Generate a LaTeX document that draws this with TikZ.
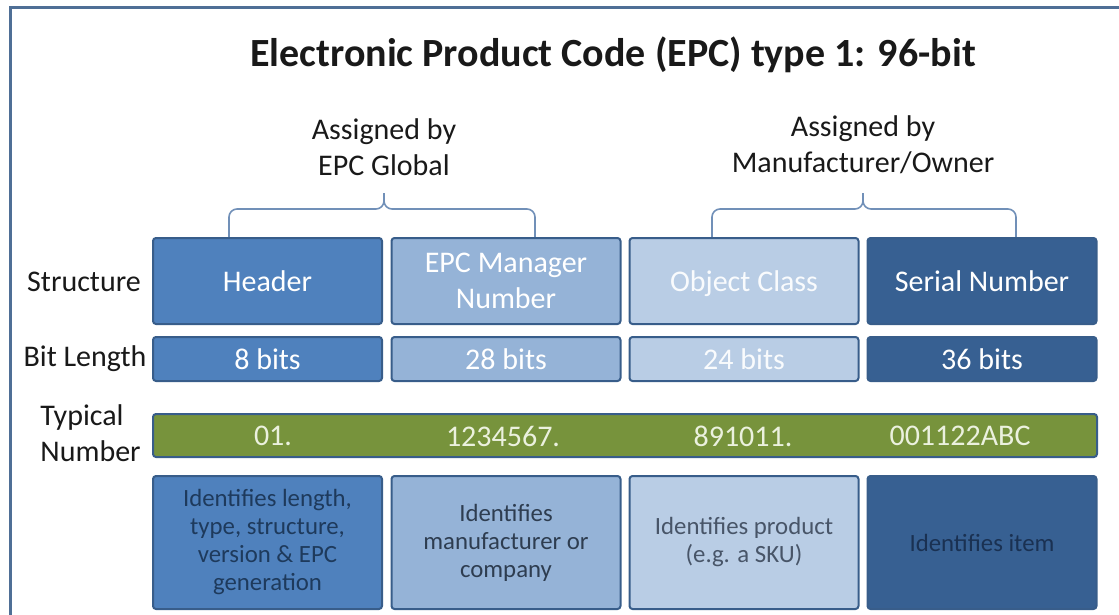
\documentclass[tikz,border=0pt]{standalone}
\usepackage{fontspec}
\setmainfont{Carlito}

\definecolor{frameblue}{HTML}{4F6F96}
\definecolor{boxline}{HTML}{385D8A}
\definecolor{hdrblue}{HTML}{4F81BD}
\definecolor{mgrblue}{HTML}{95B3D7}
\definecolor{objblue}{HTML}{B9CDE5}
\definecolor{serblue}{HTML}{376092}
\definecolor{numgreen}{HTML}{77933C}
\definecolor{numtext}{HTML}{EBF1DE}
\definecolor{bracecol}{HTML}{7190B8}
\definecolor{hdrtext}{HTML}{1E3A5C}
\definecolor{mgrtext}{HTML}{2E3D50}
\definecolor{objtext}{HTML}{485568}
\definecolor{sertext}{HTML}{1A3152}

\newcommand{\titlesize}{\fontsize{20}{24}\selectfont}
\newcommand{\labelsize}{\fontsize{15}{18}\selectfont}
\newcommand{\descsize}{\fontsize{12.4}{14}\selectfont}

\begin{document}
\begin{tikzpicture}[x=.5pt,y=-.5pt,
    field/.style={draw=boxline,line width=1pt,rounded corners=1.5pt,inner sep=0pt,align=center,minimum width=114.5pt},
    structbox/.style={field,minimum height=43pt,text=white,font=\labelsize},
    bitbox/.style={field,minimum height=22pt,text=white,font=\labelsize},
    descbox/.style={field,minimum height=66.5pt,font=\descsize},
    rowlabel/.style={text=black!90,font=\labelsize,inner sep=0pt},
    numlabel/.style={text=numtext,font=\labelsize,inner sep=0pt},
    brace/.style={draw=bracecol,line width=.8pt,rounded corners=4pt}]
    \useasboundingbox (0,0) rectangle (1119,615);
    \draw[frameblue,line width=1.5pt] (10,615) -- (10,8) -- (1119,8);
    \node[font=\titlesize\bfseries,text=black!90] (title) at (613,55) {Electronic Product Code (EPC) type 1: 96-bit};
    % assigned by ==========================================
    \node[rowlabel,align=center,font=\labelsize] (glob) at (384,147) {Assigned by\\EPC Global};
    \node[rowlabel,align=center,font=\labelsize] (own)  at (863,145) {Assigned by\\Manufacturer/Owner};
    \coordinate (gtip) at (384,193); \coordinate (gl) at (229,237); \coordinate (gr) at (535,237);
    \coordinate (otip) at (863,193); \coordinate (ol) at (712,237); \coordinate (or) at (1016,237);
    \draw[brace] (gl) |- (384,209) -- (gtip); \draw[brace] (gr) |- (384,209) -- (gtip);
    \draw[brace] (ol) |- (863,209) -- (otip); \draw[brace] (or) |- (863,209) -- (otip);
    % row labels ===========================================
    \node[rowlabel] (lstruct) at (84,282) {Structure};
    \node[rowlabel] (lbits)   at (85,359) {Bit Length};
    \node[rowlabel,anchor=west,align=left] (lnum) at (40,433) {Typical\\Number};
    % structure ============================================
    \node[structbox,fill=hdrblue] (hdr) at (267.5,281) {Header};
    \node[structbox,fill=mgrblue] (mgr) at (506,281)   {EPC Manager\\Number};
    \node[structbox,fill=objblue,text=white!92!objblue,text depth=0pt] (obj) at (744,281) {Object Class};
    \node[structbox,fill=serblue] (ser) at (982,281)   {Serial Number};
    % bit length ===========================================
    \node[bitbox,fill=hdrblue] (hdrbits) at (267.5,359) {8 bits};
    \node[bitbox,fill=mgrblue] (mgrbits) at (506,359)   {28 bits};
    \node[bitbox,fill=objblue,text=white!92!objblue] (objbits) at (744,359) {24 bits};
    \node[bitbox,fill=serblue] (serbits) at (982,359)   {36 bits};
    % typical number =======================================
    \node[field,fill=numgreen,minimum width=472pt,minimum height=21.5pt] (num) at (625,435.5) {};
    \node[numlabel] (numhdr) at (273,436) {01.};
    \node[numlabel] (nummgr) at (503,436) {1234567.};
    \node[numlabel] (numobj) at (743,436) {891011.};
    \node[numlabel] (numser) at (960,436) {001122ABC};
    % descriptions =========================================
    \node[descbox,fill=hdrblue,text=hdrtext] (hdrdesc) at (267.5,542.5) {Identifies length,\\type, structure,\\version \& EPC\\generation};
    \node[descbox,fill=mgrblue,text=mgrtext] (mgrdesc) at (506,542.5) {Identifies\\manufacturer or\\company};
    \node[descbox,fill=objblue,text=objtext] (objdesc) at (744,542.5) {Identifies product\\(e.g. a SKU)};
    \node[descbox,fill=serblue,text=sertext] (serdesc) at (982,542.5) {Identifies item};
\end{tikzpicture}
\end{document}
